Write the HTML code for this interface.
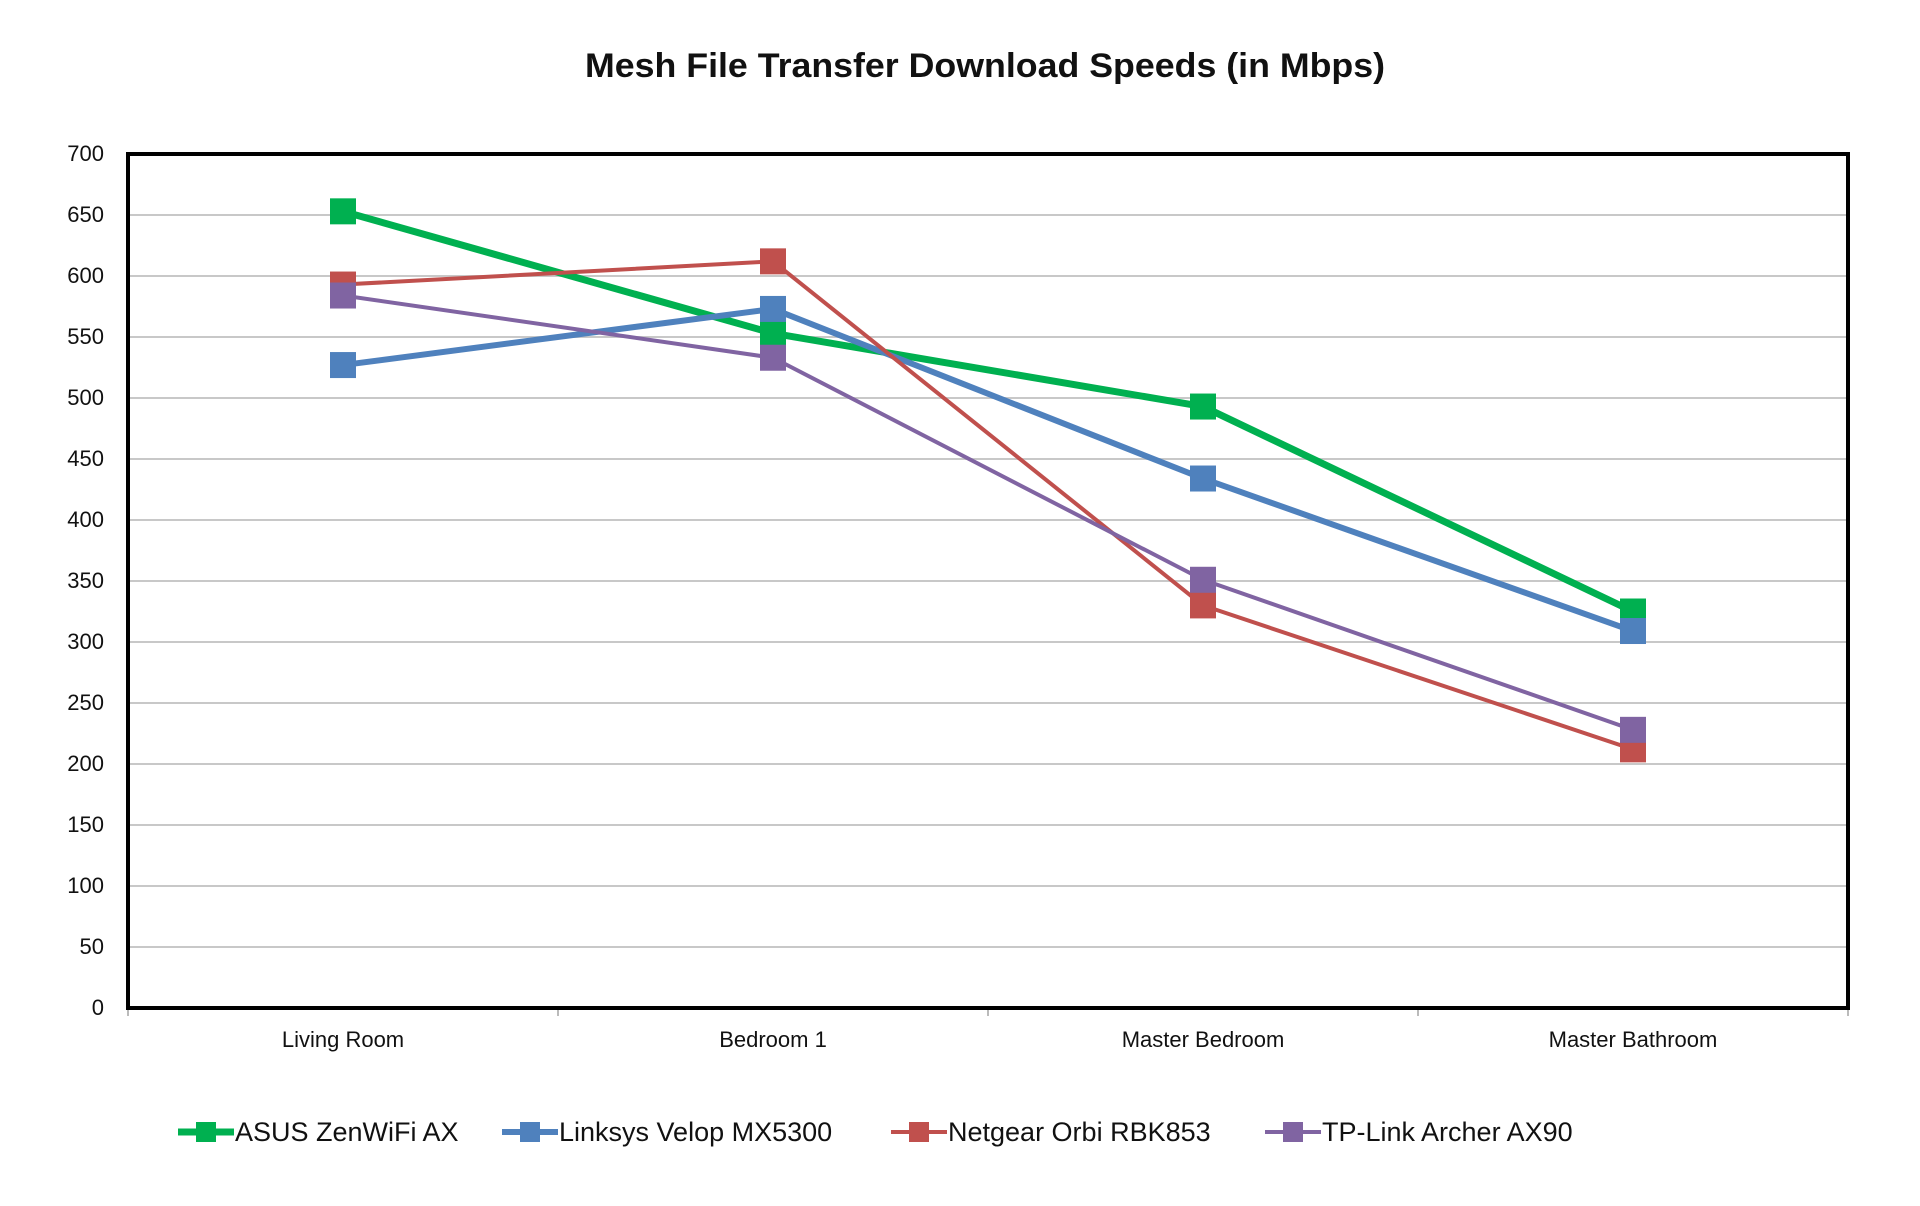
<!DOCTYPE html>
<html><head><meta charset="utf-8"><style>body{margin:0;background:#fff}svg{display:block}text{font-family:"Liberation Sans",sans-serif;fill:#111}</style></head>
<body>
<svg id="chart" width="1920" height="1206" viewBox="0 0 1920 1206" xmlns="http://www.w3.org/2000/svg">
<text x="985" y="77" text-anchor="middle" font-size="34" font-weight="bold" textLength="800" lengthAdjust="spacingAndGlyphs">Mesh File Transfer Download Speeds (in Mbps)</text>
<g id="grid"></g><g id="series"></g><g id="legend"></g>
</svg>
<script>
const categories = ["Living Room","Bedroom 1","Master Bedroom","Master Bathroom"];
const seriesNames = ["ASUS ZenWiFi AX","Linksys Velop MX5300","Netgear Orbi RBK853","TP-Link Archer AX90"];
const asus = [653,553,493,325];
const linksys = [527,573,434,309];
const netgear = [593,612,330,212];
const tplink = [584,533,351,228];
const yTicks = [0,50,100,150,200,250,300,350,400,450,500,550,600,650,700];
const NS="http://www.w3.org/2000/svg";
const L=128,R=1848,T=154,B=1008,yMax=700;
const x=i=>L+(R-L)/categories.length*(i+0.5);
const y=v=>B-(B-T)*v/yMax;
function mk(tag,attrs,parent){const e=document.createElementNS(NS,tag);for(const k in attrs)e.setAttribute(k,attrs[k]);parent.appendChild(e);return e;}
const grid=document.getElementById('grid');
yTicks.forEach(t=>{
  if(t>0&&t<yMax){const g=mk('line',{x1:L,x2:R,y1:y(t),y2:y(t),stroke:'#c8c8c8','stroke-width':2},grid);
  
  }
  const tx=mk('text',{x:104,y:y(t)+7,'text-anchor':'end','font-size':22},grid);tx.textContent=t;
  
  
});
for(let i=0;i<=categories.length;i++){const xx=L+(R-L)/categories.length*i;mk('line',{x1:xx,x2:xx,y1:B,y2:B+8,stroke:'#bbb','stroke-width':2},grid);}
categories.forEach((c,i)=>{const tx=mk('text',{x:x(i),y:1047,'text-anchor':'middle','font-size':22},grid);tx.textContent=c;
  
  });
const border=mk('rect',{x:L,y:T,width:R-L,height:B-T,fill:'none',stroke:'#000','stroke-width':4},grid);


const data=[asus,linksys,netgear,tplink];
const colors=["#00b050","#4f81bd","#c0504d","#8064a2"];
const widths=[7,6,4,4];
const sg=document.getElementById('series');
data.forEach((d,s)=>{
  const g=mk('g',{},sg);
  
  
  mk('polyline',{points:d.map((v,i)=>x(i)+','+y(v)).join(' '),fill:'none',stroke:colors[s],'stroke-width':widths[s],'stroke-linejoin':'round'},g);
  d.forEach((v,i)=>{const r=mk('rect',{x:x(i)-13,y:y(v)-13,width:26,height:26,fill:colors[s]},g);
    
    });
});
const lg=document.getElementById('legend');
const lx=[178,502,891,1265];
seriesNames.forEach((n,s)=>{
  const g=mk('g',{},lg);
  
  
  mk('line',{x1:lx[s],x2:lx[s]+56,y1:1132,y2:1132,stroke:colors[s],'stroke-width':widths[s]},g);
  mk('rect',{x:lx[s]+18,y:1122,width:20,height:20,fill:colors[s]},g);
  const t=mk('text',{x:lx[s]+57,y:1141,'font-size':27},g);t.textContent=n;
});
</script>
</body></html>
